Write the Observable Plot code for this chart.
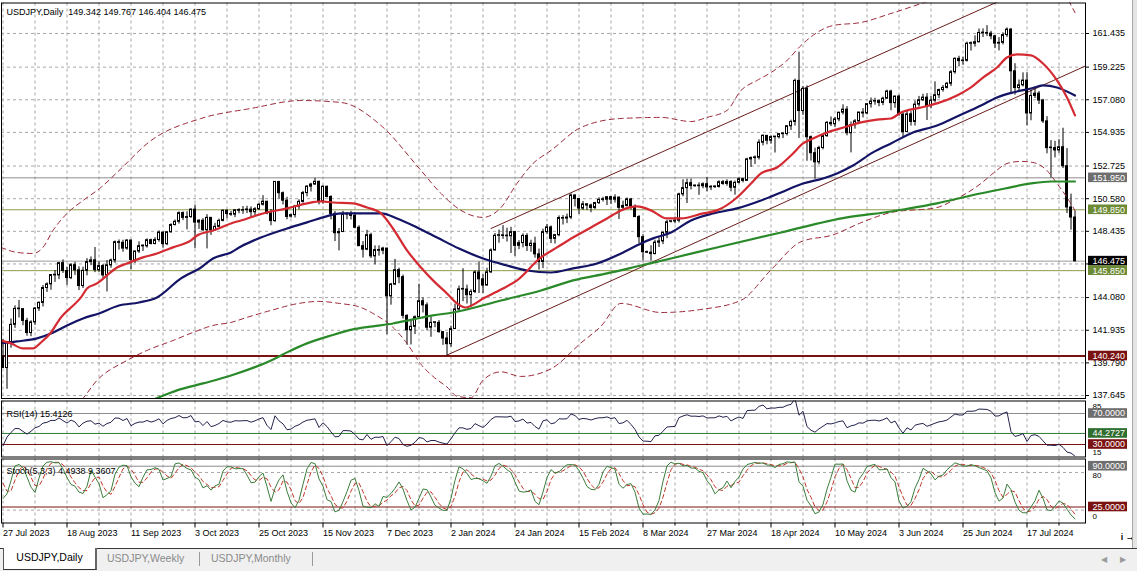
<!DOCTYPE html>
<html><head><meta charset="utf-8">
<script src="https://cdn.jsdelivr.net/npm/d3@7"></script>
<script src="https://cdn.jsdelivr.net/npm/@observablehq/plot@0.6"></script>
<style>
html,body{margin:0;padding:0;background:#fff;}
#wrap{position:relative;width:1137px;height:571px;overflow:hidden;background:#fff;font-family:"Liberation Sans",Arial,sans-serif;}
.panel{position:absolute;left:0;}
.panel svg{display:block;}
#rightstrip{position:absolute;left:1132px;top:0;width:5px;height:548px;background:#e4e4e4;border-left:1px solid #a8a8a8;}
#tabbar{position:absolute;left:0;top:548px;width:1137px;height:23px;background:#f0f0f0;border-top:1px solid #3a3a3a;}
.tab{position:absolute;top:0;height:20px;line-height:19px;font-size:10.5px;color:#8a8a8a;white-space:nowrap;}
.tab.active{left:3px;width:91px;background:#fff;color:#000;border-left:1px solid #555;border-right:2px solid #666;border-bottom:1px solid #333;text-align:center;top:-1px;height:21px;}
.sep{position:absolute;top:3px;width:1px;height:14px;background:#9a9a9a;}
.arrow{position:absolute;top:6px;font-size:8px;color:#9a9a9a;}
</style></head>
<body>
<div id="wrap">
  <div id="main" class="panel" style="top:0px"></div>
  <div id="rsi" class="panel" style="top:400px"></div>
  <div id="sto" class="panel" style="top:458px"></div>
  <div id="rightstrip"></div>
  <div id="tabbar">
    <div class="tab active">USDJPY,Daily</div>
    <div class="tab" style="left:107px">USDJPY,Weekly</div>
    <div class="sep" style="left:199px"></div>
    <div class="tab" style="left:211px">USDJPY,Monthly</div>
    <div class="sep" style="left:312px"></div>
    <div class="arrow" style="left:1101px">&#9664;</div>
    <div class="arrow" style="left:1120px">&#9654;</div>
  </div>
</div>
<script>
// ---------------- DATA ----------------
// Daily bars, 27 Jul 2023 (bar 0) ... 2 Aug 2024 (bar 268)
const opens = [
140.20,139.45,141.16,142.29,143.34,143.32,142.55,141.75,142.45,143.36,
143.73,144.71,144.95,145.56,145.54,146.34,145.83,145.36,146.21,145.87,
144.84,145.84,146.41,146.53,145.88,146.15,145.54,146.20,146.52,147.72,
147.68,147.30,147.83,146.55,147.11,147.46,147.45,147.85,147.60,147.86,
148.35,147.59,148.37,148.85,149.06,149.63,149.32,149.37,149.86,149.01,
149.13,148.51,149.32,148.50,148.73,149.12,149.79,149.57,149.53,149.82,
149.79,149.83,149.86,149.69,149.89,150.18,150.38,149.61,149.11,151.68,
150.94,150.45,149.40,149.50,150.06,150.37,150.95,151.37,151.51,151.69,
150.38,151.36,150.69,149.58,148.31,148.39,149.55,149.54,149.45,148.67,
147.46,147.23,148.18,146.79,147.20,147.16,147.30,144.16,144.94,145.88,
145.42,142.88,141.93,142.16,142.79,143.84,143.57,142.10,142.42,142.42,
141.81,141.39,141.02,142.01,143.30,144.62,144.61,144.24,144.45,145.73,
145.28,144.87,145.74,147.18,148.14,148.15,148.13,148.11,148.38,147.48,
147.66,148.13,147.47,147.62,146.92,146.42,148.38,148.69,147.94,148.18,
149.31,149.27,149.34,150.79,150.56,149.93,150.21,150.13,149.97,150.29,
150.50,150.51,150.68,150.51,150.65,149.98,150.10,150.53,150.04,149.37,
148.05,147.05,147.03,146.94,147.69,147.77,148.34,149.06,149.08,149.13,
150.86,151.27,151.60,151.40,151.44,151.40,151.53,151.32,151.34,151.35,
151.66,151.55,151.68,151.30,151.62,151.86,151.75,153.16,153.25,153.27,
154.26,154.71,154.39,154.63,154.62,154.82,154.83,155.34,155.62,158.32,
156.34,157.80,154.62,153.57,152.97,153.91,154.69,155.56,155.47,155.79,
156.23,156.43,154.88,155.41,155.66,156.24,156.18,156.79,156.96,156.99,
156.87,157.15,157.62,156.86,157.29,156.10,154.96,156.12,155.62,156.76,
157.05,157.22,156.66,157.02,157.38,157.72,157.86,158.13,158.89,159.77,
159.62,159.64,160.76,160.76,160.86,161.47,161.45,161.43,161.25,160.77,
160.82,161.33,161.69,158.95,157.85,158.03,158.34,156.18,157.33,157.48,
157.03,155.66,153.90,153.90,153.75,153.96,152.71,150.00,149.342];
const highs = [
141.32,141.17,142.68,143.54,143.89,143.34,142.72,142.56,143.43,143.80,
144.88,145.05,145.58,145.86,146.39,146.56,146.07,146.32,146.40,146.10,
146.08,146.64,146.75,147.37,146.42,146.26,146.51,146.61,147.80,147.87,
147.85,147.88,147.86,147.14,147.74,147.55,147.94,147.92,148.01,148.46,
148.38,148.43,148.93,149.18,149.71,149.71,149.72,149.91,150.16,149.20,
149.27,149.53,149.33,148.96,149.24,149.83,149.83,149.74,149.85,149.92,
150.06,150.08,150.04,149.99,150.25,150.78,150.40,149.87,151.71,151.72,
151.02,150.67,149.55,150.14,150.51,151.06,151.44,151.59,151.92,151.73,
151.43,151.41,150.77,149.73,148.62,149.75,149.67,149.75,149.67,148.80,
147.76,148.50,148.31,147.48,147.48,147.39,147.32,145.01,146.59,146.02,
145.56,142.95,142.62,142.88,144.96,144.06,143.73,142.79,142.46,142.57,
141.84,141.79,142.20,143.65,144.84,145.98,144.90,144.60,145.84,146.41,
145.58,146.01,147.28,148.29,148.52,148.81,148.64,148.70,148.43,147.82,
148.27,148.28,147.85,148.05,147.27,148.58,148.89,148.79,148.24,149.45,
149.47,149.57,150.89,150.83,150.56,150.39,150.22,150.22,150.34,150.64,
150.67,150.69,150.68,150.84,150.69,150.42,150.63,150.60,150.17,149.47,
148.21,147.14,147.49,147.85,148.00,148.37,149.16,149.12,149.37,150.94,
151.82,151.86,151.87,151.48,151.62,151.62,151.97,151.44,151.43,151.76,
151.78,151.82,151.75,151.74,151.94,151.92,153.24,153.32,153.39,154.45,
154.78,154.73,154.70,154.65,154.86,154.89,155.37,155.74,158.44,160.21,
157.96,157.99,154.70,153.90,154.03,154.74,155.65,155.95,155.91,156.25,
156.75,156.63,155.62,155.78,156.25,156.50,156.82,157.20,157.18,157.06,
157.25,157.71,157.71,157.32,157.38,156.27,156.35,156.30,157.00,157.30,
157.44,157.48,157.30,158.26,157.78,158.02,158.22,159.00,159.83,159.94,
159.88,160.87,160.88,161.28,161.73,161.74,161.95,161.58,161.29,161.16,
161.48,161.80,161.76,159.45,158.38,158.85,158.86,157.73,157.85,157.62,
157.11,155.97,154.40,154.35,154.46,155.21,153.87,150.88,149.767];
const lows = [
139.44,138.05,140.75,142.06,142.74,142.23,141.54,141.51,142.25,143.17,
143.46,144.42,144.56,145.08,145.26,145.67,144.88,145.26,145.54,144.54,
144.68,145.51,146.18,145.72,145.73,145.35,144.45,146.01,146.33,147.20,
147.06,147.19,145.91,146.32,146.98,147.11,147.33,147.54,147.55,147.72,
147.32,147.49,148.32,148.79,148.91,149.14,148.53,149.29,147.30,148.56,
148.40,147.28,148.17,148.46,148.73,149.06,149.25,149.42,149.34,149.59,
149.55,149.60,149.32,149.45,149.80,150.10,149.52,148.80,149.02,150.56,
150.17,149.19,149.30,149.31,149.85,150.28,150.70,151.02,151.46,150.17,
150.22,150.63,149.19,147.76,147.15,148.35,149.20,149.18,148.60,147.43,
146.68,147.16,146.65,146.23,146.80,146.90,141.64,143.58,144.87,144.99,
142.67,140.95,140.97,141.65,142.76,143.07,141.90,141.47,142.10,141.74,
140.94,140.25,140.81,142.00,143.16,143.81,143.66,143.42,144.34,144.35,
144.34,144.86,145.66,147.14,147.65,147.91,147.73,146.98,146.79,147.23,
147.35,147.11,147.06,146.67,145.89,145.98,148.23,147.63,147.60,148.08,
148.85,148.94,149.21,150.03,149.55,149.81,149.80,149.66,149.86,150.20,
150.36,150.13,150.20,150.29,149.21,149.82,150.03,149.83,149.34,147.61,
146.49,146.97,146.48,146.89,147.37,147.56,147.95,148.98,148.93,148.99,
150.70,150.26,151.15,151.33,150.80,151.23,151.03,151.11,151.25,151.28,
151.46,151.40,151.03,150.81,151.55,151.62,151.72,152.63,152.83,153.12,
154.05,154.12,154.17,153.58,154.50,154.53,154.70,155.06,155.35,154.54,
156.05,153.04,153.05,151.86,152.80,153.79,154.61,155.32,155.25,155.63,
156.08,154.71,153.59,155.15,155.56,155.89,156.09,156.53,156.72,156.62,
156.69,157.12,156.36,156.52,156.00,154.54,154.93,155.35,155.35,156.60,
156.96,155.72,156.48,156.87,157.15,157.58,157.79,157.95,158.76,159.24,
159.36,159.56,160.28,160.54,160.82,161.17,161.24,161.02,160.44,160.29,
160.68,161.18,157.44,157.38,157.60,157.92,155.37,155.70,157.16,156.77,
155.52,153.53,151.93,153.26,153.56,152.56,149.60,148.51,146.404];
const closes = [
139.45,141.16,142.29,143.34,143.32,142.55,141.75,142.45,143.36,143.73,
144.71,144.95,145.56,145.54,146.34,145.83,145.36,146.21,145.87,144.84,
145.84,146.41,146.53,145.88,146.15,145.54,146.20,146.52,147.72,147.68,
147.30,147.83,146.55,147.11,147.46,147.45,147.85,147.60,147.86,148.35,
147.59,148.37,148.85,149.06,149.63,149.32,149.37,149.86,149.01,149.13,
148.51,149.32,148.50,148.73,149.12,149.79,149.57,149.53,149.82,149.79,
149.83,149.86,149.69,149.89,150.18,150.38,149.61,149.11,151.68,150.94,
150.45,149.38,149.50,150.06,150.37,150.95,151.37,151.51,151.69,150.38,
151.36,150.69,149.58,148.31,148.39,149.55,149.54,149.45,148.67,147.46,
147.23,148.18,146.79,147.20,147.16,147.30,144.16,144.94,145.88,145.42,
142.88,141.93,142.16,142.79,143.84,143.57,142.10,142.42,142.42,141.81,
141.39,141.02,142.01,143.30,144.62,144.61,144.24,144.45,145.73,145.28,
144.87,145.74,147.18,148.14,148.15,148.13,148.11,148.38,147.48,147.66,
148.13,147.47,147.62,146.92,146.42,148.38,148.69,147.94,148.18,149.31,
149.27,149.34,150.79,150.56,149.93,150.21,150.13,149.97,150.29,150.50,
150.51,150.68,150.51,150.65,149.98,150.10,150.53,150.04,149.37,148.05,
147.06,147.03,146.94,147.69,147.77,148.34,149.03,149.08,149.13,150.86,
151.27,151.60,151.42,151.44,151.40,151.53,151.32,151.34,151.35,151.66,
151.55,151.68,151.30,151.62,151.86,151.75,153.16,153.25,153.27,154.26,
154.71,154.39,154.63,154.62,154.82,154.83,155.34,155.62,158.32,156.34,
157.80,154.62,153.57,152.97,153.91,154.69,155.56,155.47,155.79,156.23,
156.43,154.88,155.41,155.66,156.24,156.18,156.79,156.96,156.99,156.87,
157.15,157.62,156.86,157.29,156.10,154.96,156.12,155.62,156.76,157.05,
157.22,156.66,157.02,157.38,157.72,157.86,158.13,158.89,159.77,159.62,
159.64,160.76,160.76,160.86,161.47,161.45,161.43,161.25,160.77,160.82,
161.33,161.69,158.95,157.85,158.03,158.34,156.18,157.33,157.48,157.03,
155.66,153.90,153.90,153.75,153.96,152.71,150.00,149.34,146.475];

// bars before the visible window (3-26 Jul 2023), only used to warm up RSI / Stochastic
const preHigh  = [144.91,144.73,144.66,144.50,144.20,142.98,141.47,140.47,139.02,139.09,139.42,139.33,139.99,140.49,141.95,141.90,141.60,141.10];
const preLow   = [144.44,144.30,143.86,143.66,142.08,141.03,140.15,138.15,137.78,137.24,138.12,138.44,138.72,139.10,139.74,140.85,140.60,139.95];
const preClose = [144.67,144.45,144.10,144.03,142.13,141.34,140.35,138.50,138.06,138.80,138.75,138.85,139.66,140.05,141.75,141.50,140.92,140.20];

// indicator lines: [bar, price]
const maFast = [[-0.5,141.26],[2,141.07],[5,140.74],[7.5,140.74],[9.5,141.13],[12,141.79],[14.5,142.78],[17,143.43],[19.5,144.09],[21,144.68],[23.5,145.01],[26,145.54],[28.5,146.06],[31,146.32],[35,146.72],[38.5,146.98],[42.5,147.38],[47,147.84],[48.5,148.16],[52.5,148.49],[57,148.95],[59.5,149.15],[65,149.61],[71,149.94],[76,150.27],[79.5,150.40],[82.5,150.33],[87.5,150.27],[91,150.00],[94.5,149.61],[97.5,148.62],[101,147.18],[104.5,146.06],[107.5,145.21],[111,144.35],[113.5,143.70],[115.5,143.43],[120.5,144.09],[124.5,144.61],[128.5,145.21],[134.5,146.72],[138.5,147.38],[142.5,148.03],[147,148.69],[151,149.28],[154.5,149.81],[158.5,150.07],[162,149.81],[166,149.28],[169.5,149.28],[175,149.61],[178.5,149.81],[183.5,150.66],[187,151.58],[189.5,152.24],[193.5,152.63],[197.5,153.55],[200,154.21],[202.5,154.54],[206,154.93],[211,155.32],[214.5,155.59],[218.5,155.78],[222,155.85],[224.5,156.24],[229.5,156.57],[233.5,156.84],[238.5,157.36],[242,157.89],[245,158.54],[248.5,159.20],[251,159.86],[253.5,160.06],[257,160.00],[260,159.46],[263.5,158.35],[266,157.23],[268,156.05]];
const maMid = [[-0.5,141.07],[3.5,141.20],[8.5,141.40],[12,141.72],[16,142.25],[20,142.71],[24,143.04],[29,143.56],[34,143.76],[38.5,144.09],[44.5,145.34],[49.5,146.06],[52.5,146.65],[57,147.05],[59.5,147.44],[64.5,148.03],[71,148.62],[76,149.02],[80,149.35],[84.5,149.61],[89.5,149.61],[94.5,149.61],[98.5,149.28],[103.5,148.69],[108.5,148.03],[114,147.30],[120,146.65],[126,146.19],[131,145.86],[137,145.73],[142.5,146.00],[148.5,146.32],[154.5,146.98],[159.5,147.64],[162.5,147.97],[167,148.36],[172,149.15],[177.5,149.61],[183.5,149.94],[189.5,150.46],[194.5,150.99],[200,151.58],[205,151.91],[208.5,152.24],[212.5,152.76],[217.5,153.62],[222,154.21],[227.5,154.93],[233.5,155.39],[238.5,155.98],[244.5,156.70],[248.5,157.23],[252.5,157.56],[257,157.82],[260,158.02],[263.5,157.89],[268,157.36]];
const maSlow = [[29,136.67],[37,137.32],[43.5,137.98],[50,138.44],[57,138.96],[67,139.95],[71,140.48],[76,141.07],[82,141.59],[87.5,141.99],[92.5,142.19],[97.5,142.38],[102.5,142.65],[107.5,142.91],[112.5,143.10],[124.5,143.89],[134.5,144.55],[142.5,145.21],[151,145.67],[159.5,146.19],[167,146.65],[179.5,147.44],[194.5,148.36],[211,149.35],[222,149.74],[225,149.87],[233.5,150.27],[242,150.79],[250.5,151.25],[257,151.58],[262,151.71],[268,151.71]];
const bandUpper = [[-0.5,147.38],[3.5,147.05],[7.5,146.98],[10,147.38],[12.5,148.49],[16,149.61],[20,150.46],[24.5,151.32],[28.5,152.30],[37,154.40],[49.5,155.85],[62,156.51],[74.5,157.03],[84.5,156.90],[94.5,155.39],[104.5,152.43],[109.5,150.92],[114.5,149.81],[120,149.35],[124.5,150.00],[128.5,151.58],[132.5,152.89],[137,153.75],[144.5,155.26],[154.5,155.85],[164.5,155.92],[172,155.65],[176,155.92],[181,156.38],[184.5,157.69],[188.5,158.35],[192,158.87],[196,159.66],[199.5,160.65],[207.5,161.96],[214.5,162.16],[222,162.75],[229.5,163.40],[239.5,164.30],[244.5,165.20],[249.5,166.50],[254,167.00],[259.5,166.50],[263.5,165.10],[266,163.80],[268,162.80]];
const bandLower = [[14,136.50],[19.5,137.32],[23.5,138.64],[31,139.95],[36,140.61],[42.5,141.26],[47.5,141.79],[52.5,142.25],[57,142.45],[61,142.78],[67,143.24],[74,143.70],[79,143.83],[84,143.70],[89.5,143.43],[92.5,143.04],[97.5,142.12],[101,141.07],[104.5,139.69],[107.5,138.90],[111,138.20],[113.5,137.60],[117,137.50],[120,138.65],[124.5,139.20],[129.5,138.90],[137,139.40],[144.5,141.10],[149.5,142.20],[154.5,143.70],[164.5,143.10],[174.5,143.30],[184.5,143.90],[192,145.90],[199.5,147.75],[207.5,148.20],[214.5,149.00],[222,149.67],[233.5,150.00],[237.5,150.46],[244.5,151.58],[247.5,152.24],[251,152.89],[254.5,153.03],[257.5,152.96],[261,152.43],[263.5,151.58],[266,150.66],[268,149.80]];
const channelUpper = [[122,148.62],[270.6,166.10]];
const channelLower = [[111,140.30],[270.6,159.30]];

// horizontal levels and labels
const mainLevels = [151.950, 149.850, 146.475, 145.850, 140.240];
const priceTicks = [161.435,159.225,157.080,154.935,152.725,150.580,148.435,146.290,144.080,141.935,139.790,137.645];
const hiddenTick = 146.290; // its label sits under the 146.475 / 145.850 boxes in the reference
const rsiLevels = [70, 44.2727, 30];
const rsiScaleLabels = ["85", "15"];
const stoLevels = [90, 25];
const stoDotted = [80, 20];
const stoScaleLabels = ["80", "0"];
const dateLabels = ["27 Jul 2023","18 Aug 2023","11 Sep 2023","3 Oct 2023","25 Oct 2023","15 Nov 2023","7 Dec 2023","2 Jan 2024","24 Jan 2024","15 Feb 2024","8 Mar 2024","27 Mar 2024","18 Apr 2024","10 May 2024","3 Jun 2024","25 Jun 2024","17 Jul 2024"];
const symbolTitle = "USDJPY,Daily";
const rsiTitle = "RSI(14) 15.4126";
const stoTitle = "Stoch(5,3,3) 4.4938 9.3607";

// ---------------- CHART ----------------
const N = closes.length;
const bars = d3.range(N).map(i => ({i, o: opens[i], h: highs[i], l: lows[i], c: closes[i]}));
const xDomain = [-0.375, 270.625];
const XR = xDomain[1];
const majorIdx = dateLabels.map((d, k) => k * 16);
const gridIdx = d3.range(0, 271, 8);
const minorIdx = gridIdx.filter(i => i % 16 === 8);
const FONT = "Liberation Sans, Arial, sans-serif";
const W = 1137, MR = 52, ML = 1;
const gridStyle = {stroke: "#a8a8a8", strokeOpacity: 1, strokeDasharray: "3,3"};
const P = (a) => a.map(d => ({i: d[0], v: d[1]}));

const mainColors = [
  {line: "#8c8c8c", bg: "#6e6e6e", w: 1},
  {line: "#8f9a4c", bg: "#6d8a35", w: 1},
  {line: "#9a9a9a", bg: "#000000", w: 1},
  {line: "#8f9a4c", bg: "#6d8a35", w: 1},
  {line: "#7a1212", bg: "#7a1212", w: 2}
];
const lv = mainLevels.map((v, k) => ({v, label: v.toFixed(3), ...mainColors[k]}));

const headerText = symbolTitle + "\u00a0\u00a0" + [opens[N-1], highs[N-1], lows[N-1], closes[N-1]].map(v => v.toFixed(3)).join(" ");

const labelBoxes = (data, h) => [
  Plot.rect(data, {x1: XR, x2: XR, y1: "v", y2: "v", fill: "bg", insetLeft: 3, insetRight: -42, insetTop: -h, insetBottom: -h}),
  Plot.text(data, {x: XR, y: "v", text: "label", dx: 7, textAnchor: "start", fill: "#fff", fontSize: 9})
];

const mainPlot = Plot.plot({
  width: W, height: 399,
  marginLeft: ML, marginRight: MR, marginTop: 2.5, marginBottom: 1,
  x: {domain: xDomain, axis: null},
  y: {domain: [137.449, 163.439], axis: null},
  style: {fontFamily: FONT, fontSize: "9px", background: "#fff", color: "#000", overflow: "visible"},
  marks: [
    Plot.gridY({ticks: priceTicks, ...gridStyle}),
    Plot.gridX({ticks: gridIdx, ...gridStyle}),
    Plot.ruleY(lv, {y: "v", stroke: "line", strokeWidth: "w"}),
    Plot.line(P(channelUpper), {x: "i", y: "v", stroke: "#6a1c1c", strokeWidth: 1, clip: true}),
    Plot.line(P(channelLower), {x: "i", y: "v", stroke: "#6a1c1c", strokeWidth: 1, clip: true}),
    Plot.ruleX(bars, {x: "i", y1: "l", y2: "h", stroke: "#000", strokeWidth: 1}),
    Plot.rect(bars, {
      x1: d => d.i - 0.25, x2: d => d.i + 0.25,
      y1: d => Math.min(d.o, d.c),
      y2: d => Math.max(Math.max(d.o, d.c), Math.min(d.o, d.c) + 0.04),
      fill: d => d.c >= d.o ? "#fff" : "#000", stroke: "#000", strokeWidth: 1
    }),
    Plot.line(P(bandUpper), {x: "i", y: "v", stroke: "#9c2a3a", strokeWidth: 1, strokeDasharray: "5,4", curve: "monotone-x", clip: true}),
    Plot.line(P(bandLower), {x: "i", y: "v", stroke: "#9c2a3a", strokeWidth: 1, strokeDasharray: "5,4", curve: "monotone-x", clip: true}),
    Plot.line(P(maSlow), {x: "i", y: "v", stroke: "#2a8a2a", strokeWidth: 2.2, curve: "monotone-x", clip: true}),
    Plot.line(P(maMid), {x: "i", y: "v", stroke: "#141466", strokeWidth: 2.2, curve: "monotone-x", clip: true}),
    Plot.line(P(maFast), {x: "i", y: "v", stroke: "#d42a32", strokeWidth: 2.2, curve: "monotone-x", clip: true}),
    Plot.frame({stroke: "#000"}),
    Plot.axisY({anchor: "right", ticks: priceTicks, tickFormat: d => d === hiddenTick ? "" : d.toFixed(3), tickSize: 3, tickPadding: 4, fontSize: 9}),
    ...labelBoxes(lv.filter(d => d.v !== 145.85), 4.8),
    ...labelBoxes(lv.filter(d => d.v === 145.85), 4.8),
    Plot.text([headerText], {frameAnchor: "top-left", dx: 5, dy: 9, textAnchor: "start", lineAnchor: "middle", fontSize: 9, fill: "#000"})
  ]
});
document.getElementById("main").appendChild(mainPlot);

// ---- RSI(14), computed from the closes ----
const allC = preClose.concat(closes);
const allH = preHigh.concat(highs);
const allL = preLow.concat(lows);
const PRE = preClose.length;
function rsiCalc(vals, n) {
  const out = vals.map(() => NaN);
  let g = 0, l = 0;
  for (let k = 1; k <= n; k++) { const d = vals[k] - vals[k-1]; if (d > 0) g += d; else l -= d; }
  g /= n; l /= n;
  out[n] = 100 - 100 / (1 + g / l);
  for (let k = n + 1; k < vals.length; k++) {
    const d = vals[k] - vals[k-1];
    g = (g * (n - 1) + Math.max(d, 0)) / n;
    l = (l * (n - 1) + Math.max(-d, 0)) / n;
    out[k] = l === 0 ? 100 : 100 - 100 / (1 + g / l);
  }
  return out;
}
const rsiAll = rsiCalc(allC, 14);
const rsiPts = d3.range(N).map(i => ({i, v: rsiAll[i + PRE]}));

const rsiColors = [{line: "#8c8c8c", bg: "#6e6e6e"}, {line: "#2e7d32", bg: "#2f6e2f"}, {line: "#7a1212", bg: "#7a1212"}];
const rl = rsiLevels.map((v, k) => ({v, label: v.toFixed(4), ...rsiColors[k]}));

const rsiPlot = Plot.plot({
  width: W, height: 57,
  marginLeft: ML, marginRight: MR, marginTop: 0.5, marginBottom: 0.5,
  x: {domain: xDomain, axis: null},
  y: {domain: [13.9, 86.1], axis: null},
  style: {fontFamily: FONT, fontSize: "9px", background: "#fff", color: "#000", overflow: "visible"},
  marks: [
    Plot.gridX({ticks: gridIdx, ...gridStyle}),
    Plot.ruleY(rl, {y: "v", stroke: "line", strokeWidth: 1}),
    Plot.line(rsiPts, {x: "i", y: "v", stroke: "#23234e", strokeWidth: 1, clip: true}),
    Plot.frame({stroke: "#000"}),
    Plot.text(rsiScaleLabels.slice(0, 1), {frameAnchor: "top-right", dx: 7, dy: 2.5, textAnchor: "start", fontSize: 8}),
    Plot.text(rsiScaleLabels.slice(1), {frameAnchor: "bottom-right", dx: 7, dy: -2.5, textAnchor: "start", fontSize: 8}),
    ...labelBoxes(rl, 4.8),
    Plot.text([rsiTitle], {frameAnchor: "top-left", dx: 5, dy: 9.5, textAnchor: "start", fontSize: 9, fill: "#000"})
  ]
});
document.getElementById("rsi").appendChild(rsiPlot);

// ---- Stochastic(5,3,3), computed from highs/lows/closes ----
const M = allC.length;
const lowN = d3.range(M).map(j => j < 4 ? NaN : d3.min(allL.slice(j - 4, j + 1)));
const highN = d3.range(M).map(j => j < 4 ? NaN : d3.max(allH.slice(j - 4, j + 1)));
const kAll = d3.range(M).map(j => j < 6 ? NaN :
  100 * d3.sum([j-2, j-1, j], t => allC[t] - lowN[t]) / d3.sum([j-2, j-1, j], t => highN[t] - lowN[t]));
const dAll = d3.range(M).map(j => j < 8 ? NaN : (kAll[j] + kAll[j-1] + kAll[j-2]) / 3);
const kPts = d3.range(N).map(i => ({i, v: kAll[i + PRE]}));
const dPts = d3.range(N).map(i => ({i, v: dAll[i + PRE]}));

const stoColors = [{line: "#8c8c8c", bg: "#6e6e6e"}, {line: "#7a1212", bg: "#7a1212"}];
const sl = stoLevels.map((v, k) => ({v, label: v.toFixed(4), ...stoColors[k]}));

const stoPlot = Plot.plot({
  width: W, height: 84,
  marginLeft: ML, marginRight: MR, marginTop: 0.5, marginBottom: 19.5,
  x: {domain: xDomain, axis: null},
  y: {domain: [-0.5, 101.5], axis: null},
  style: {fontFamily: FONT, fontSize: "9px", background: "#fff", color: "#000", overflow: "visible"},
  marks: [
    Plot.gridX({ticks: gridIdx, ...gridStyle}),
    Plot.ruleY(stoDotted, {stroke: "#a8a8a8", strokeDasharray: "3,3"}),
    Plot.ruleY(sl, {y: "v", stroke: "line", strokeWidth: 1}),
    Plot.line(dPts, {x: "i", y: "v", stroke: "#c0392b", strokeWidth: 1, strokeDasharray: "4,3", clip: true}),
    Plot.line(kPts, {x: "i", y: "v", stroke: "#3b7d3b", strokeWidth: 1, clip: true}),
    Plot.frame({stroke: "#000"}),
    Plot.text(stoScaleLabels.slice(0, 1), {x: XR, y: stoDotted[0], dx: 7, dy: 2.5, textAnchor: "start", fontSize: 8}),
    Plot.text(stoScaleLabels.slice(1), {frameAnchor: "bottom-right", dx: 7, dy: -4.5, textAnchor: "start", fontSize: 8}),
    ...labelBoxes(sl, 4.8),
    Plot.text([stoTitle], {frameAnchor: "top-left", dx: 5, dy: 9, textAnchor: "start", fontSize: 9, fill: "#000"}),
    Plot.axisX({anchor: "bottom", ticks: majorIdx, tickFormat: i => dateLabels[i / 16], tickSize: 5, tickPadding: 2, textAnchor: "start", fontSize: 9}),
    Plot.axisX({anchor: "bottom", ticks: minorIdx, tickFormat: () => "", tickSize: 3})
  ]
});
document.getElementById("sto").appendChild(stoPlot);
</script>
</body></html>
